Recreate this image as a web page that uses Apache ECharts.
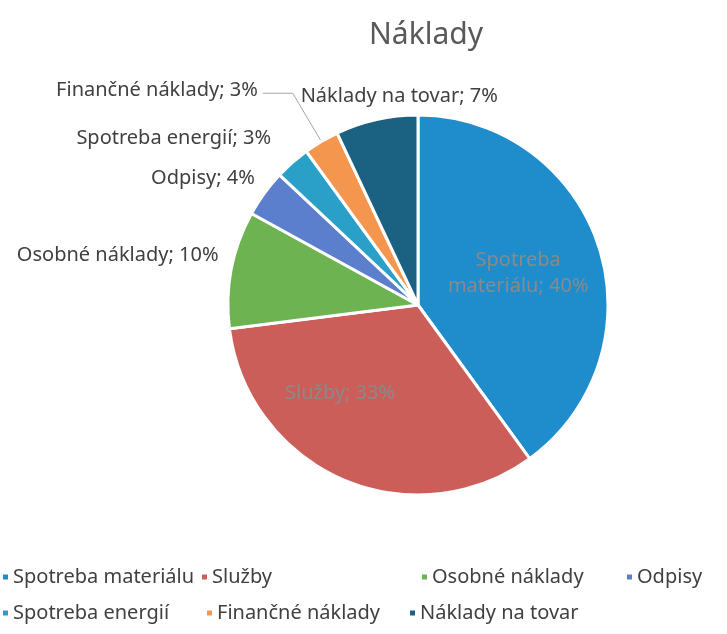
<!DOCTYPE html>
<html>
<head>
<meta charset="utf-8">
<script src="https://cdn.jsdelivr.net/npm/echarts@6/dist/echarts.min.js"></script>
<style>
html,body{margin:0;padding:0;background:#fff;}
#c{width:727px;height:634px;}
</style>
</head>
<body>
<div id="c"></div>
<script>
const title = 'Náklady';
const categories = ['Spotreba materiálu', 'Služby', 'Osobné náklady', 'Odpisy', 'Spotreba energií', 'Finančné náklady', 'Náklady na tovar'];
const values = [40, 33, 10, 4, 3, 3, 7];
const colors = ['#1f8ccc', '#cc5e5a', '#6db352', '#5b7fcc', '#2aa0c8', '#f5964f', '#1b6282'];
const insideLabels = [true, true, false, false, false, false, false];
// label nudges (style only)
const labelDx = [7, -39, 0, 2, -11, 0, 128];
const labelDy = [-1, -2, -13, -10, -18, -3, -15];

const font = '"Noto Sans", "Open Sans", sans-serif';

const data = categories.map((name, i) => {
  const item = { name: name, value: values[i], itemStyle: { color: colors[i] } };
  if (insideLabels[i]) {
    item.label = { position: 'inside', color: '#8a8a8a', fontSize: 20, lineHeight: 26,
      formatter: i === 0 ? 'Spotreba\nmateriálu; {d}%' : '{b}; {d}%' };
  } else {
    item.label = { position: 'outside' };
    if (i === 5) {
      item.labelLine = { show: true, length: 56, length2: 30 };
    } else {
      item.labelLine = { show: false, length: 8, length2: 0 };
    }
  }
  return item;
});

const legendPos = [
  { left: 1, top: 567 }, { left: 200, top: 567 }, { left: 420, top: 567 }, { left: 625, top: 567 },
  { left: 1, top: 603 }, { left: 205, top: 603 }, { left: 408, top: 603 }
];
const legends = categories.map((name, i) => ({
  data: [name], left: legendPos[i].left, top: legendPos[i].top,
  icon: 'rect', itemWidth: 7, itemHeight: 7, itemGap: 0, padding: 0,
  textStyle: { fontFamily: font, fontSize: 20, color: '#404040', padding: [0, 0, 0, -1] },
  selectedMode: false
}));

const chart = echarts.init(document.getElementById('c'));
chart.setOption({
  backgroundColor: '#fff',
  animation: false,
  title: { text: title, left: 421, top: 15, textAlign: 'center',
    textStyle: { fontFamily: font, fontSize: 30, fontWeight: 'normal', color: '#595959' } },
  legend: legends,
  series: [{
    type: 'pie',
    center: [418, 305],
    radius: [0, 190],
    startAngle: 90,
    clockwise: true,
    avoidLabelOverlap: false,
    itemStyle: { borderColor: '#fff', borderWidth: 3 },
    label: { formatter: '{b}; {d}%', fontFamily: font, fontSize: 20, color: '#404040' },
    labelLine: { lineStyle: { color: '#a6a6a6', width: 1 } },
    labelLayout: function (p) { return { dx: labelDx[p.dataIndex], dy: labelDy[p.dataIndex] }; },
    data: data
  }]
});
</script>
</body>
</html>
